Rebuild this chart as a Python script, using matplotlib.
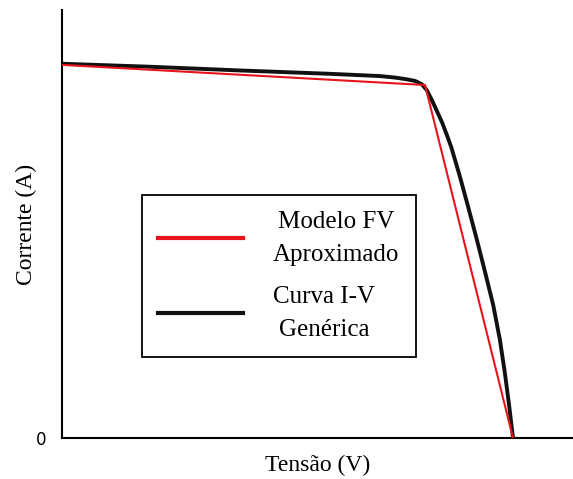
import numpy as np
import matplotlib.pyplot as plt

# Approximated PV model (piecewise linear): short circuit -> knee -> open circuit
v_modelo = [0.0, 0.805, 1.0]
i_modelo = [1.0, 0.946, 0.0]

# Generic I-V curve of the module
v_curva = [0.0, 0.195, 0.395, 0.594, 0.705, 0.738, 0.761, 0.783, 0.798,
           0.809, 0.820, 0.831, 0.843, 0.854, 0.863, 0.882, 0.900, 0.920,
           0.938, 0.956, 0.971, 0.982, 0.991, 1.0]
i_curva = [1.003, 0.995, 0.985, 0.976, 0.970, 0.966, 0.962, 0.957, 0.948,
           0.932, 0.906, 0.877, 0.845, 0.810, 0.780, 0.702, 0.622, 0.531,
           0.445, 0.357, 0.263, 0.174, 0.091, 0.0]

rotulos = ["Modelo FV\nAproximado", "Curva I-V\nGenérica"]

fig = plt.figure(figsize=(5.73, 4.79), dpi=100)
ax = fig.add_axes([0.108, 0.0856, 0.892, 0.8935])

serif = ["Liberation Serif", "DejaVu Serif"]

ax.plot(v_curva, i_curva, color="#111111", lw=2.8, label=rotulos[1],
        solid_joinstyle="round", zorder=2)
ax.plot(v_modelo, i_modelo, color="#e8141b", lw=1.5, label=rotulos[0], zorder=3)

ax.set_xlim(0, 1.133)
ax.set_ylim(0, 1.147)

for s in ["top", "right"]:
    ax.spines[s].set_visible(False)
for s in ["left", "bottom"]:
    ax.spines[s].set_linewidth(1.5)

ax.set_xticks([])
ax.set_yticks([0])
ax.set_yticklabels(["0"], fontsize=12)
ax.tick_params(axis="y", length=0, pad=11)

ax.set_xlabel("Tensão (V)", fontsize=17, family=serif, labelpad=12)
ax.set_ylabel("Corrente (A)", fontsize=17, family=serif)
ax.yaxis.set_label_coords(-0.048, 0.5)

handles, labels = ax.get_legend_handles_labels()
order = [1, 0]
leg = ax.legend([handles[i] for i in order], [labels[i] for i in order],
                loc="center", bbox_to_anchor=(0.153, 0.194, 0.542, 0.369),
                prop={"family": serif, "size": 18}, frameon=True,
                fancybox=False, edgecolor="black", framealpha=1,
                handlelength=3.4, handletextpad=1.2, labelspacing=0.8,
                borderpad=0.65)
leg.get_frame().set_linewidth(1.3)
for t in leg.get_texts():
    t.set_multialignment("center")
    t.set_linespacing(1.64)
for h in leg.get_lines():
    h.set_linewidth(3)

fig.savefig("out.png", dpi=100)
